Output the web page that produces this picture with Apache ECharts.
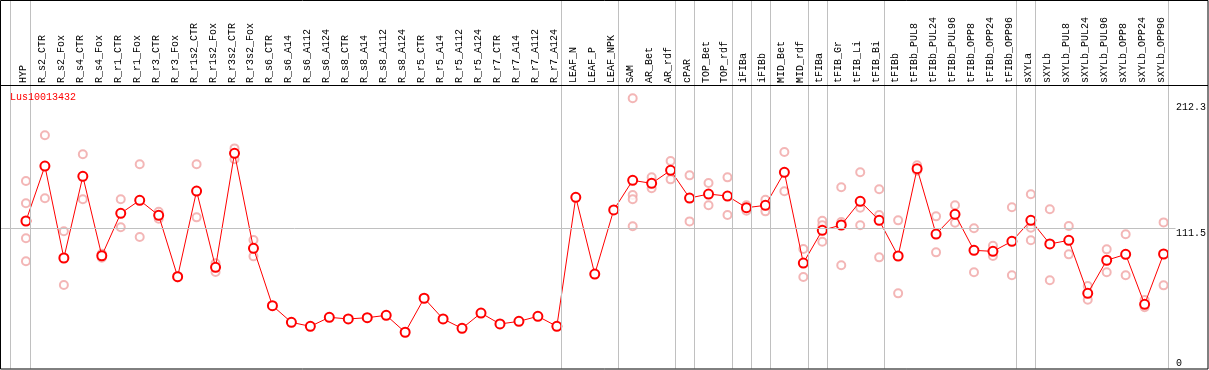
<!DOCTYPE html>
<html>
<head>
<meta charset="utf-8">
<script src="https://cdn.jsdelivr.net/npm/echarts@6/dist/echarts.min.js"></script>
<style>html,body{margin:0;padding:0;background:#fff}#c{width:1209px;height:370px}</style>
</head>
<body>
<div id="c"></div>
<script>
const categories = ["HYP","R_s2_CTR","R_s2_Fox","R_s4_CTR","R_s4_Fox","R_r1_CTR","R_r1_Fox","R_r3_CTR","R_r3_Fox","R_r1s2_CTR","R_r1s2_Fox","R_r3s2_CTR","R_r3s2_Fox","R_s6_CTR","R_s6_A14","R_s6_A112","R_s6_A124","R_s8_CTR","R_s8_A14","R_s8_A112","R_s8_A124","R_r5_CTR","R_r5_A14","R_r5_A112","R_r5_A124","R_r7_CTR","R_r7_A14","R_r7_A112","R_r7_A124","LEAF_N","LEAF_P","LEAF_NPK","SAM","AR_Bet","AR_rdf","cPAR","TOP_Bet","TOP_rdf","iFIBa","iFIBb","MID_Bet","MID_rdf","tFIBa","tFIB_Gr","tFIB_Li","tFIB_Bi","tFIBb","tFIBb_PUL8","tFIBb_PUL24","tFIBb_PUL96","tFIBb_OPP8","tFIBb_OPP24","tFIBb_OPP96","sXYLa","sXYLb","sXYLb_PUL8","sXYLb_PUL24","sXYLb_PUL96","sXYLb_OPP8","sXYLb_OPP24","sXYLb_OPP96"];
const means = [117.6,161.4,88.1,153.2,89.9,123.7,134.1,122.1,73.2,141.5,80.7,171.6,95.8,50.1,36.8,33.6,40.8,39.5,40.5,42.4,28.9,56.0,39.5,32.0,44.2,35.5,37.6,41.6,33.6,136.5,75.3,126.4,150.0,147.6,158.0,135.9,139.1,137.5,128.2,130.1,156.4,84.1,110.2,114.4,133.3,118.1,89.7,159.3,107.2,122.9,94.2,93.4,101.4,118.1,99.3,102.2,59.9,86.3,91.0,51.2,91.3];
const replicates = [
 [149.5,131.7,103.8,85.5],[185.9,135.7],[109.4,66.6],[170.8,134.9],[91.5,88.3],[134.9,112.6],[162.8,104.8],[125.0,119.4],[73.8,72.6],[162.8,120.5],
 [83.9,76.9],[175.5,166.8],[102.4,89.4],[],[],[],[],[],[],[],
 [],[],[],[],[],[],[],[],[],[],
 [],[],[215.4,138.3,134.9,113.4],[152.4,143.7],[165.4,150.8],[154.0,117.3],[147.9,130.1],[152.4,122.4],[130.1,125.8],[134.6,125.3],
 [172.6,141.3],[95.3,72.9],[117.8,114.2,101.1],[144.5,116.8,82.3],[156.4,128.2,114.2],[142.9,122.4,88.6],[118.1,59.9],[162.0,157.7],[121.3,92.6],[130.1,116.2],
 [111.8,76.7],[97.9,89.7],[128.5,74.3],[138.9,112.2,102.2],[126.9,70.3],[113.6,91.0],[65.8,54.8],[95.0,76.7],[107.0,74.3],[54.6,48.8],
 [116.5,66.3]
];
const groupEnds = [0,28,31,34,35,37,38,39,41,42,45,52,53,60];
const yTickValuesTop = [111.5, 212.3];
const yTickValuesBottom = [0];
const yTickLabels = {"0":"0","111.5":"111.5","212.3":"212.3"};
const refLineValue = 111.5;
const title = "Lus10013432";

const FONT = "Liberation Mono";
const X_MIN = -1.3158, X_MAX = 62.2105, Y_MAX = 293.8;

const repData = [];
replicates.forEach((arr, i) => arr.forEach(v => repData.push([i, v])));
const meanData = means.map((v, i) => [i, v]);

const vLines = [{xAxis: -0.83}].concat(groupEnds.map(g => ({xAxis: g + 0.247})));

const chart = echarts.init(document.getElementById('c'), null, {renderer: 'canvas'});
chart.setOption({
  animation: false,
  backgroundColor: '#fff',
  title: {text: title, left: 10, top: 92, padding: 0, textStyle: {color: '#ff0000', fontSize: 10, fontWeight: 'normal', fontFamily: FONT}},
  grid: {left: 1, right: 1, top: 0, bottom: 1.5, containLabel: false},
  xAxis: {
    type: 'value', min: X_MIN, max: X_MAX, position: 'top', offset: -85,
    axisLine: {show: false}, axisTick: {show: false}, splitLine: {show: false},
    axisLabel: {
      customValues: categories.map((c, i) => i - 0.14),
      formatter: v => categories[Math.round(v)] || '',
      rotate: 90, margin: 2, color: '#000', fontSize: 10, fontFamily: FONT
    }
  },
  yAxis: [{
    type: 'value', min: 0, max: Y_MAX, position: 'right',
    axisLine: {show: false}, axisTick: {show: false}, splitLine: {show: false},
    axisLabel: {inside: true, customValues: yTickValuesTop, formatter: v => yTickLabels[String(v)],
      align: 'left', verticalAlign: 'top', margin: 29.5, color: '#000', fontSize: 10, fontFamily: FONT}
  }, {
    type: 'value', min: 0, max: Y_MAX, position: 'right',
    axisLine: {show: false}, axisTick: {show: false}, splitLine: {show: false},
    axisLabel: {inside: true, customValues: yTickValuesBottom, formatter: v => yTickLabels[String(v)],
      align: 'left', verticalAlign: 'bottom', margin: 29.5, color: '#000', fontSize: 10, fontFamily: FONT, showMinLabel: true}
  }],
  series: [{
    type: 'line', data: [], z: 1, silent: true,
    markLine: {
      silent: true, symbol: 'none', label: {show: false}, animation: false,
      lineStyle: {color: '#c0c0c0', width: 1, type: 'solid'},
      emphasis: {disabled: true},
      data: vLines.concat([[{coord: [X_MIN, refLineValue]}, {coord: [60.63, refLineValue]}]])
    }
  }, {
    type: 'scatter', data: repData, z: 2, silent: true,
    symbol: 'emptyCircle', symbolSize: 8,
    itemStyle: {color: '#f0a4a4', borderColor: '#f0a4a4', borderWidth: 1.2}
  }, {
    type: 'line', data: meanData, z: 3, silent: true,
    symbol: 'emptyCircle', symbolSize: 9,
    itemStyle: {color: '#ff0000', borderColor: '#ff0000', borderWidth: 1.3},
    lineStyle: {color: '#ff0000', width: 1}
  }],
  graphic: [
    {type: 'rect', shape: {x: 0.5, y: 0.5, width: 1207.5, height: 368.5}, style: {fill: null, stroke: '#000', lineWidth: 1}, silent: true, z: 10},
    {type: 'line', shape: {x1: 0, y1: 85.5, x2: 1208, y2: 85.5}, style: {stroke: '#000', lineWidth: 1}, silent: true, z: 10}
  ]
});
</script>
</body>
</html>
